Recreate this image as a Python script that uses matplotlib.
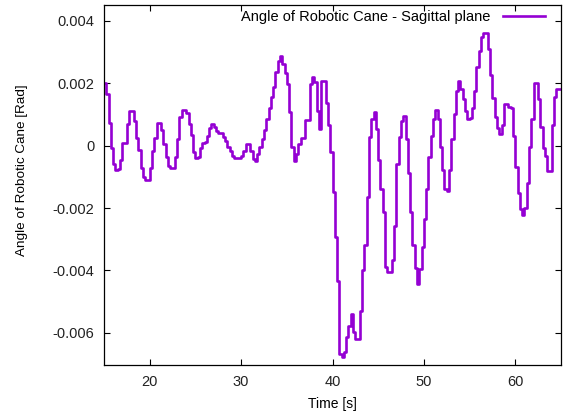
import numpy as np
import matplotlib
matplotlib.use("Agg")
import matplotlib.pyplot as plt

plt.rcParams['font.family'] = ['Liberation Sans', 'DejaVu Sans']
plt.rcParams['axes.unicode_minus'] = False

# sample times [s], one value every 0.25 s from 15 s to 65 s
time_s = np.arange(15.0, 65.0001, 0.25)

# angle readings, in units of 1e-3 rad
angle_mrad = [
    2.00, 1.66, 0.73, -0.07, -0.60, -0.77, -0.75, -0.46, 0.10, 0.10,
    0.70, 1.10, 1.10, 0.80, 0.25, -0.13, -0.70, -1.00, -1.10, -1.10,
    -0.70, -0.16, 0.25, 0.73, 0.73, 0.50, 0.05, -0.35, -0.65, -0.70,
    -0.70, -0.35, 0.20, 0.93, 1.14, 1.14, 1.04, 0.70, 0.35, -0.20,
    -0.40, -0.37, -0.07, 0.10, 0.13, 0.32, 0.57, 0.70, 0.61, 0.46,
    0.42, 0.40, 0.27, 0.16, -0.03, -0.18, -0.32, -0.40, -0.40, -0.40,
    -0.32, -0.16, 0.05, 0.05, -0.16, -0.43, -0.50, -0.27, -0.03, 0.21,
    0.50, 0.85, 1.20, 1.57, 1.87, 2.35, 2.72, 2.88, 2.62, 2.32,
    1.98, 1.07, -0.05, -0.48, -0.27, 0.05, 0.25, 0.25, 0.82, 0.82,
    1.98, 2.21, 2.03, 1.10, 0.53, 2.06, 2.06, 1.36, 0.67, -0.21,
    -1.50, -2.94, -4.35, -6.68, -6.78, -6.62, -6.14, -5.77, -5.40, -5.98,
    -6.20, -6.20, -5.29, -4.00, -3.17, -1.63, 0.27, 0.85, 1.07, 0.53,
    -0.46, -1.39, -2.14, -3.90, -4.06, -4.06, -3.66, -2.56, -0.59, 0.29,
    0.80, 0.96, 0.21, -0.86, -2.14, -3.17, -3.92, -4.43, -3.95, -3.26,
    -2.35, -1.39, -0.37, 0.32, 0.85, 1.14, 0.85, -0.03, -0.78, -1.39,
    -1.44, -0.78, 0.21, 1.02, 1.74, 2.06, 1.82, 1.50, 1.10, 0.85,
    0.89, 1.20, 1.76, 2.51, 3.04, 3.49, 3.60, 3.60, 3.10, 2.28,
    1.53, 0.93, 0.57, 0.37, 0.67, 1.34, 1.34, 1.25, 1.20, 0.32,
    -0.67, -1.53, -2.03, -2.21, -2.00, -1.18, -0.05, 0.85, 2.00, 2.00,
    1.50, 0.59, -0.07, -0.32, -0.82, -0.82, 0.67, 1.55, 1.82, 1.82,
    1.82,
]
angle_rad = np.array(angle_mrad) * 1e-3

xticks = [20, 30, 40, 50, 60]
yticks = [-0.006, -0.004, -0.002, 0, 0.002, 0.004]
ytick_labels = ["-0.006", "-0.004", "-0.002", "0", "0.002", "0.004"]

fs = 10.5

fig = plt.figure(figsize=(5.63, 4.19), dpi=100)
ax = fig.add_axes([104/563, 1 - 365/419, 457/563, 360/419])

ax.step(time_s, angle_rad, where='post', color='#9400D3', lw=1.9,
        label='Angle of Robotic Cane - Sagittal plane')

ax.set_xlim(15, 65)
ax.set_ylim(-0.00703, 0.00451)
ax.set_xticks(xticks)
ax.set_yticks(yticks)
ax.set_yticklabels(ytick_labels)

ax.tick_params(direction='in', length=4, width=0.8, top=True, right=True,
               labelsize=fs, labelcolor='#222222', pad=7)
for s in ax.spines.values():
    s.set_linewidth(0.9)

ax.set_xlabel('Time [s]', fontsize=10, labelpad=6)
ax.set_ylabel('Angle of Robotic Cane [Rad]', fontsize=9.7)
ax.yaxis.set_label_coords(-0.167, 0.54)

ax.legend(loc='upper right', bbox_to_anchor=(0.966, 0.985), frameon=False,
          markerfirst=False, fontsize=fs, handlelength=2.9, handletextpad=0.9,
          borderaxespad=0, borderpad=0)

fig.savefig('out.png', dpi=100)
